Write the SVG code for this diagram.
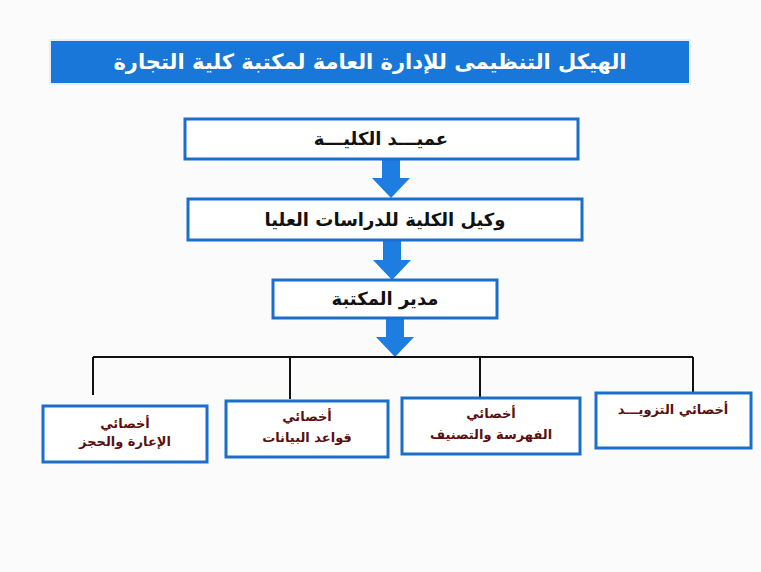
<svg xmlns="http://www.w3.org/2000/svg" width="761" height="572" viewBox="0 0 761 572">
<style>
.box{fill:#fff;stroke:#1a6fcc;stroke-width:3}
.t{font-family:"DejaVu Sans","Noto Sans",sans-serif;font-weight:bold;text-anchor:middle;direction:rtl}
.k{fill:#111;font-size:18px}
.r{fill:#5a1010;font-size:13px}
.ln{stroke:#111;stroke-width:2;fill:none}
.ar{fill:#1e7de0}
</style>
<rect width="761" height="572" fill="#fbfbfb"/>
<g id="title"><rect x="50" y="40" width="640" height="44" fill="#1877d8" stroke="#e8eef6" stroke-width="2"/>
<text class="t" x="370" y="69" fill="#fff" font-size="21">الهيكل التنظيمى للإدارة العامة لمكتبة كلية التجارة</text></g>
<g id="connectors">
<path class="ar" d="M382 160h18v18h10l-19 20-19-20h10z"/>
<path class="ar" d="M383 241h18v19h10l-19 20-19-20h10z"/>
<path class="ar" d="M386 319h18v18h10l-19 20-19-20h10z"/>
<path class="ln" d="M93 357H693M93 357v38M290 357v42M480 357v40M693 357v35"/>
</g>
<g id="n1"><rect class="box" x="185" y="119" width="393" height="40"/><text class="t k" x="381" y="145">عميـــد الكليـــة</text></g>
<g id="n2"><rect class="box" x="188" y="199" width="394" height="41"/><text class="t k" x="385" y="226">وكيل الكلية للدراسات العليا</text></g>
<g id="n3"><rect class="box" x="273" y="280" width="224" height="38"/><text class="t k" x="385" y="305">مدير المكتبة</text></g>
<g id="b1"><rect class="box" x="43" y="406" width="164" height="56"/><text class="t r" x="125" y="428">أخصائي</text><text class="t r" x="125" y="446">الإعارة والحجز</text></g>
<g id="b2"><rect class="box" x="226" y="401" width="162" height="56"/><text class="t r" x="307" y="421">أخصائي</text><text class="t r" x="307" y="442">قواعد البيانات</text></g>
<g id="b3"><rect class="box" x="402" y="398" width="178" height="56"/><text class="t r" x="491" y="418">أخصائي</text><text class="t r" x="491" y="439">الفهرسة والتصنيف</text></g>
<g id="b4"><rect class="box" x="596" y="393" width="155" height="55"/><text class="t r" x="673" y="414">أخصائي التزويـــد</text></g>
</svg>
